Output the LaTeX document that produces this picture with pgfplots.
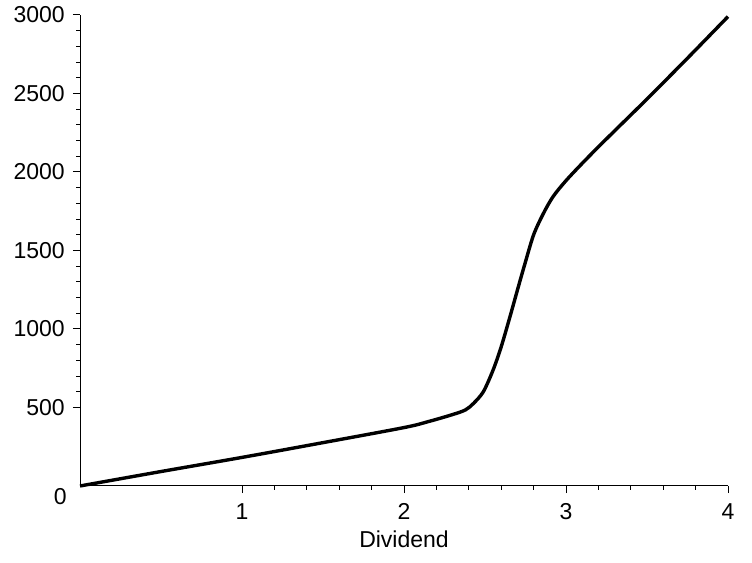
\documentclass[border=0pt]{standalone}
\usepackage{pgfplots}
\pgfplotsset{compat=1.18}
\usepackage{fontspec}
\setmainfont{Liberation Sans}

\begin{document}
\fontsize{11.5}{13}\selectfont
\begin{tikzpicture}
\begin{axis}[
    name=ax,
    scale only axis,
    width=324pt, height=235.5pt,
    xmin=0, xmax=4,
    ymin=0, ymax=3000,
    axis lines*=left,
    axis line style={line width=0.5pt},
    xtick={1,2,3,4},
    ytick={500,1000,1500,2000,2500,3000},
    minor x tick num=4,
    minor y tick num=4,
    tick align=outside,
    major tick length=3.6pt,
    minor tick length=1.8pt,
    tick style={black, line width=0.5pt},
    xticklabel style={yshift=-1pt},
    xlabel={Dividend},
    xlabel style={yshift=2pt},
    /pgf/number format/assume math mode=true,
    /pgf/number format/set thousands separator={},
    clip=false,
]
% curve
\addplot[black, line width=1.7pt, smooth, tension=0.5] coordinates {
    (0,0) (0.5,92) (1,182) (1.5,276) (2.0,372) (2.15,410)
    (2.3,455) (2.38,485) (2.43,527) (2.49,601) (2.55,739) (2.60,887)
    (2.654,1078) (2.706,1270) (2.747,1418) (2.80,1600) (2.86,1735)
    (2.92,1843) (3.0,1945) (3.1,2055) (3.2,2160) (3.3,2262)
    (3.5,2465) (3.75,2725) (4,2990)
};
\node[anchor=north east, inner sep=0pt, xshift=-6.5pt, yshift=-1pt] at (axis cs:0,0) {0};
\coordinate (bl) at (rel axis cs:-0.1235,-0.1635);
\coordinate (tr) at (rel axis cs:1.037,1.0318);
\end{axis}
\pgfresetboundingbox
\useasboundingbox (bl) rectangle (tr);
\end{tikzpicture}
\end{document}
